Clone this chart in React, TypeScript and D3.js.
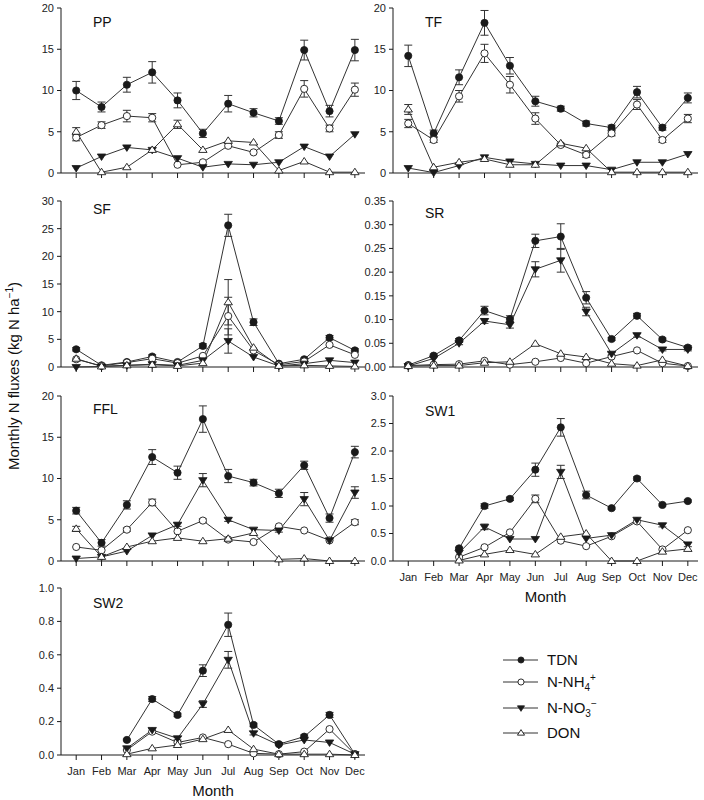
import React from "react";
import * as d3 from "d3";

const months = ["Jan", "Feb", "Mar", "Apr", "May", "Jun", "Jul", "Aug", "Sep", "Oct", "Nov", "Dec"];
const seriesNames = ["TDN", "NH4", "NO3", "DON"];

type V = number | null;

// PP
const ppTDN: V[] = [10.0, 8.0, 10.7, 12.2, 8.8, 4.8, 8.4, 7.3, 6.3, 14.9, 7.5, 14.9];
const ppTDNErr = [1.1, 0.6, 0.9, 1.3, 0.9, 0.5, 1.0, 0.5, 0.4, 1.2, 0.7, 1.3];
const ppNH4: V[] = [4.3, 5.8, 6.9, 6.7, 1.0, 1.3, 3.3, 2.5, 4.6, 10.2, 5.4, 10.1];
const ppNH4Err = [0.4, 0.4, 0.7, 0.5, 0, 0, 0, 0, 0.4, 1.0, 0.4, 0.8];
const ppNO3: V[] = [0.6, 2.0, 3.1, 2.8, 1.8, 0.7, 1.1, 1.0, 1.3, 3.2, 2.0, 4.7];
const ppNO3Err = [0, 0, 0, 0, 0, 0, 0, 0, 0, 0, 0, 0];
const ppDON: V[] = [5.0, 0.1, 0.7, 2.8, 5.9, 2.8, 3.9, 3.7, 0.3, 1.4, 0.1, 0.1];
const ppDONErr = [0.5, 0, 0, 0, 0.5, 0, 0, 0, 0, 0, 0, 0];

// TF
const tfTDN: V[] = [14.2, 4.8, 11.6, 18.2, 13.0, 8.7, 7.8, 6.0, 5.5, 9.8, 5.5, 9.1];
const tfTDNErr = [1.3, 0.4, 0.9, 1.5, 1.0, 0.6, 0.3, 0.3, 0.3, 0.7, 0.3, 0.6];
const tfNH4: V[] = [6.0, 4.0, 9.3, 14.5, 10.7, 6.6, 3.4, 2.2, 4.8, 8.3, 4.0, 6.6];
const tfNH4Err = [0.5, 0.3, 0.7, 1.1, 1.0, 0.7, 0.2, 0.3, 0.3, 0.6, 0.3, 0.5];
const tfNO3: V[] = [0.6, 0.05, 0.9, 1.9, 1.4, 1.1, 0.9, 0.9, 0.4, 1.3, 1.3, 2.3];
const tfNO3Err = [0, 0, 0, 0, 0, 0, 0, 0, 0, 0, 0, 0];
const tfDON: V[] = [7.7, 0.7, 1.3, 1.7, 1.0, 1.0, 3.6, 3.0, 0.1, 0.1, 0.1, 0.1];
const tfDONErr = [0.6, 0, 0, 0, 0, 0, 0, 0, 0, 0, 0, 0];

// SF
const sfTDN: V[] = [3.2, 0.3, 0.9, 1.9, 0.9, 3.8, 25.6, 8.1, 0.6, 1.4, 5.3, 3.0];
const sfTDNErr = [0.3, 0.1, 0.2, 0.3, 0.2, 0.4, 2.0, 0.6, 0.1, 0.2, 0.4, 0.3];
const sfNH4: V[] = [1.4, 0.2, 0.8, 1.5, 0.7, 2.0, 9.2, 3.0, 0.4, 1.0, 4.0, 2.2];
const sfNH4Err = [0, 0, 0, 0, 0, 0, 3.4, 0, 0, 0, 0, 0];
const sfNO3: V[] = [0.0, 0.1, 0.3, 0.5, 0.3, 1.2, 4.7, 1.8, 0.2, 0.6, 1.2, 0.8];
const sfNO3Err = [0, 0, 0, 0, 0, 0, 2.2, 0, 0, 0, 0, 0];
const sfDON: V[] = [1.5, 0.1, 0.3, 0.4, 0.2, 0.7, 11.7, 3.5, 0.2, 0.3, 0.2, 0.1];
const sfDONErr = [0, 0, 0, 0, 0, 0, 4.1, 0, 0, 0, 0, 0];

// SR
const srTDN: V[] = [0.004, 0.024, 0.056, 0.119, 0.101, 0.266, 0.275, 0.146, 0.059, 0.108, 0.058, 0.041];
const srTDNErr = [0.002, 0.003, 0.004, 0.009, 0.007, 0.014, 0.027, 0.013, 0.003, 0.005, 0.003, 0.004];
const srNH4: V[] = [0.003, 0.005, 0.006, 0.013, 0.005, 0.011, 0.019, 0.008, 0.022, 0.035, 0.008, 0.002];
const srNH4Err = [0, 0, 0, 0, 0, 0, 0, 0, 0, 0, 0, 0];
const srNO3: V[] = [0.002, 0.018, 0.05, 0.097, 0.089, 0.206, 0.225, 0.117, 0.028, 0.067, 0.037, 0.037];
const srNO3Err = [0, 0, 0.003, 0.005, 0.007, 0.016, 0.025, 0.009, 0.003, 0.004, 0.003, 0.003];
const srDON: V[] = [0.002, 0.003, 0.003, 0.009, 0.011, 0.049, 0.028, 0.021, 0.007, 0.003, 0.015, 0.002];
const srDONErr = [0, 0, 0, 0, 0, 0, 0, 0, 0, 0, 0, 0];

// FFL
const ffTDN: V[] = [6.1, 2.2, 6.8, 12.6, 10.7, 17.2, 10.3, 9.5, 8.2, 11.6, 5.2, 13.2];
const ffTDNErr = [0.4, 0.4, 0.5, 0.9, 0.8, 1.6, 0.8, 0.4, 0.5, 0.5, 0.5, 0.7];
const ffNH4: V[] = [1.7, 1.3, 3.8, 7.1, 3.6, 4.9, 2.6, 2.3, 4.2, 3.7, 2.5, 4.7];
const ffNH4Err = [0, 0, 0.2, 0.4, 0, 0.2, 0, 0, 0, 0, 0, 0.3];
const ffNO3: V[] = [0.3, 0.5, 1.2, 3.1, 4.4, 9.8, 5.0, 3.8, 3.7, 7.5, 2.5, 8.3];
const ffNO3Err = [0, 0, 0, 0, 0.2, 0.8, 0.2, 0, 0.2, 0.8, 0, 0.7];
const ffDON: V[] = [3.9, 0.5, 1.7, 2.4, 2.8, 2.4, 2.7, 3.4, 0.2, 0.3, 0.0, 0.0];
const ffDONErr = [0.3, 0, 0, 0, 0, 0, 0, 0, 0, 0, 0, 0];

// SW1
const sw1TDN: V[] = [null, null, 0.23, 1.0, 1.13, 1.66, 2.43, 1.2, 0.96, 1.5, 1.02, 1.09];
const sw1TDNErr = [0, 0, 0.02, 0.04, 0.03, 0.12, 0.16, 0.07, 0.02, 0.03, 0.02, 0.02];
const sw1NH4: V[] = [null, null, 0.07, 0.25, 0.52, 1.13, 0.37, 0.27, 0.45, 0.72, 0.21, 0.56];
const sw1NH4Err = [0, 0, 0, 0, 0, 0.07, 0, 0, 0, 0, 0, 0];
const sw1NO3: V[] = [null, null, 0.15, 0.62, 0.4, 0.4, 1.62, 0.41, 0.47, 0.75, 0.65, 0.3];
const sw1NO3Err = [0, 0, 0, 0.05, 0, 0, 0.12, 0, 0, 0, 0.03, 0.04];
const sw1DON: V[] = [null, null, 0.01, 0.12, 0.2, 0.12, 0.44, 0.5, 0.0, 0.0, 0.17, 0.22];
const sw1DONErr = [0, 0, 0, 0, 0, 0, 0, 0, 0, 0, 0, 0];

// SW2
const sw2TDN: V[] = [null, null, 0.09, 0.335, 0.24, 0.505, 0.78, 0.18, 0.065, 0.11, 0.24, 0.005];
const sw2TDNErr = [0, 0, 0.005, 0.015, 0.01, 0.035, 0.07, 0.01, 0.005, 0.01, 0.015, 0];
const sw2NH4: V[] = [null, null, 0.03, 0.14, 0.075, 0.105, 0.065, 0.01, 0.005, 0.02, 0.155, 0.005];
const sw2NH4Err = [0, 0, 0, 0, 0, 0, 0, 0, 0, 0, 0, 0];
const sw2NO3: V[] = [null, null, 0.04, 0.15, 0.1, 0.305, 0.57, 0.13, 0.06, 0.09, 0.075, 0.005];
const sw2NO3Err = [0, 0, 0, 0.01, 0.01, 0.02, 0.05, 0.01, 0, 0, 0, 0];
const sw2DON: V[] = [null, null, 0.005, 0.04, 0.06, 0.095, 0.15, 0.035, 0.005, 0.005, 0.005, 0.0];
const sw2DONErr = [0, 0, 0, 0, 0, 0, 0, 0, 0, 0, 0, 0];

const FONT = "'Liberation Sans', Arial, Helvetica, sans-serif";
const INK = "#1a1a1a";

type PanelDef = {
  name: string;
  col: 0 | 1;
  top: number;
  bottom: number;
  ymax: number;
  step: number;
  fmt: string;
  labelDy: number;
  showMonths: boolean;
  data: V[][];
  errs: number[][];
};

const panels: PanelDef[] = [
  { name: "PP", col: 0, top: 8, bottom: 173, ymax: 20, step: 5, fmt: "d", labelDy: 19, showMonths: false,
    data: [ppTDN, ppNH4, ppNO3, ppDON], errs: [ppTDNErr, ppNH4Err, ppNO3Err, ppDONErr] },
  { name: "TF", col: 1, top: 8, bottom: 173, ymax: 20, step: 5, fmt: "d", labelDy: 19, showMonths: false,
    data: [tfTDN, tfNH4, tfNO3, tfDON], errs: [tfTDNErr, tfNH4Err, tfNO3Err, tfDONErr] },
  { name: "SF", col: 0, top: 201, bottom: 367, ymax: 30, step: 5, fmt: "d", labelDy: 13, showMonths: false,
    data: [sfTDN, sfNH4, sfNO3, sfDON], errs: [sfTDNErr, sfNH4Err, sfNO3Err, sfDONErr] },
  { name: "SR", col: 1, top: 201, bottom: 367, ymax: 0.35, step: 0.05, fmt: ".2f", labelDy: 17, showMonths: false,
    data: [srTDN, srNH4, srNO3, srDON], errs: [srTDNErr, srNH4Err, srNO3Err, srDONErr] },
  { name: "FFL", col: 0, top: 396, bottom: 561, ymax: 20, step: 5, fmt: "d", labelDy: 18, showMonths: false,
    data: [ffTDN, ffNH4, ffNO3, ffDON], errs: [ffTDNErr, ffNH4Err, ffNO3Err, ffDONErr] },
  { name: "SW1", col: 1, top: 396, bottom: 561, ymax: 3, step: 0.5, fmt: ".1f", labelDy: 20, showMonths: true,
    data: [sw1TDN, sw1NH4, sw1NO3, sw1DON], errs: [sw1TDNErr, sw1NH4Err, sw1NO3Err, sw1DONErr] },
  { name: "SW2", col: 0, top: 588, bottom: 755, ymax: 1, step: 0.2, fmt: ".1f", labelDy: 20, showMonths: true,
    data: [sw2TDN, sw2NH4, sw2NO3, sw2DON], errs: [sw2TDNErr, sw2NH4Err, sw2NO3Err, sw2DONErr] },
];

const colRange: [number, number][] = [
  [61, 365],
  [393, 698],
];

function Marker({ kind, x, y, s = 1 }: { kind: string; x: number; y: number; s?: number }) {
  if (kind === "TDN")
    return <circle cx={x} cy={y} r={3.6 * s} fill={INK} stroke={INK} strokeWidth={0.8} />;
  if (kind === "NH4")
    return <circle cx={x} cy={y} r={3.6 * s} fill="#fff" stroke={INK} strokeWidth={0.9} />;
  if (kind === "NO3") {
    const w = 4.2 * s, h = 3.6 * s;
    return (
      <path d={`M${x - w},${y - h * 0.7}L${x + w},${y - h * 0.7}L${x},${y + h * 1.1}Z`} fill={INK} stroke={INK} strokeWidth={0.8} />
    );
  }
  const w = 4.2 * s, h = 3.6 * s;
  return (
    <path d={`M${x - w},${y + h * 0.7}L${x + w},${y + h * 0.7}L${x},${y - h * 1.1}Z`} fill="#fff" stroke={INK} strokeWidth={0.9} />
  );
}

function Panel({ p }: { p: PanelDef }) {
  const [x0, x1] = colRange[p.col];
  const x = d3.scaleLinear().domain([0.4, 12.4]).range([x0, x1]);
  const y = d3.scaleLinear().domain([0, p.ymax]).range([p.bottom, p.top]);
  const ticks = d3.range(0, p.ymax + p.step / 2, p.step);
  const fmt = d3.format(p.fmt);
  const line = d3
    .line<V>()
    .defined((d) => d != null)
    .x((_, i) => x(i + 1))
    .y((d) => y(d as number));

  return (
    <g>
      {/* axes */}
      <line x1={x0} x2={x1} y1={p.bottom} y2={p.bottom} stroke={INK} strokeWidth={1} />
      <line x1={x0} x2={x0} y1={p.bottom} y2={p.top} stroke={INK} strokeWidth={1} />
      {ticks.map((t) => (
        <g key={t}>
          <line x1={x0 - 4} x2={x0} y1={y(t)} y2={y(t)} stroke={INK} strokeWidth={1} />
          <text x={x0 - 7} y={y(t)} dy="0.35em" textAnchor="end" fontSize={11} fill="#222" fontFamily={FONT}>
            {fmt(t)}
          </text>
        </g>
      ))}
      {months.map((m, i) => (
        <g key={m}>
          <line x1={x(i + 1)} x2={x(i + 1)} y1={p.bottom} y2={p.bottom + 5} stroke={INK} strokeWidth={1} />
          {p.showMonths && (
            <text x={x(i + 1)} y={p.bottom + 20} textAnchor="middle" fontSize={11} fill="#222" fontFamily={FONT}>
              {m}
            </text>
          )}
        </g>
      ))}
      {p.showMonths && (
        <text x={(x0 + x1) / 2} y={p.bottom + 41} textAnchor="middle" fontSize={15} fill="#111" fontFamily={FONT}>
          Month
        </text>
      )}
      <text x={x0 + 32} y={p.top + p.labelDy} fontSize={14} fill="#111" fontFamily={FONT}>
        {p.name}
      </text>
      {/* series */}
      {p.data.map((vals, si) => (
        <path key={"l" + si} d={line(vals) || ""} fill="none" stroke="#333" strokeWidth={1} />
      ))}
      {p.data.map((vals, si) =>
        vals.map((v, i) => {
          const e = p.errs[si][i];
          if (v == null || !e) return null;
          const cx = x(i + 1);
          const yt = y(v + e);
          const yb = y(Math.max(0, v - e));
          return (
            <g key={`e${si}-${i}`} stroke="#333" strokeWidth={1}>
              <line x1={cx} x2={cx} y1={yt} y2={yb} />
              <line x1={cx - 4} x2={cx + 4} y1={yt} y2={yt} />
              <line x1={cx - 4} x2={cx + 4} y1={yb} y2={yb} />
            </g>
          );
        })
      )}
      {p.data.map((vals, si) =>
        vals.map((v, i) =>
          v == null ? null : <Marker key={`m${si}-${i}`} kind={seriesNames[si]} x={x(i + 1)} y={y(v)} />
        )
      )}
    </g>
  );
}

const legendY = [660, 682, 708, 733];

export default function App() {
  return (
    <svg width={704} height={800} style={{ position: "absolute", left: 0, top: 0, background: "#fff" }}>
      <rect width={704} height={800} fill="#fff" />
      {panels.map((p) => (
        <Panel key={p.name} p={p} />
      ))}
      <text
        transform="translate(19,376) rotate(-90)"
        textAnchor="middle"
        fontSize={15}
        fill="#111"
        fontFamily={FONT}
      >
        Monthly N fluxes (kg N ha
        <tspan fontSize={10} dy={-6}>−1</tspan>
        <tspan dy={6}>)</tspan>
      </text>
      {/* legend */}
      {seriesNames.map((s, i) => (
        <g key={s}>
          <line x1={503} x2={538} y1={legendY[i]} y2={legendY[i]} stroke="#333" strokeWidth={1} />
          <Marker kind={s} x={521} y={legendY[i]} s={0.85} />
        </g>
      ))}
      <text x={547} y={legendY[0]} dy="0.36em" fontSize={15} fill="#111" fontFamily={FONT}>TDN</text>
      <text x={547} y={legendY[1]} dy="0.36em" fontSize={15} fill="#111" fontFamily={FONT}>
        N-NH<tspan fontSize={10} dy={4}>4</tspan>
        <tspan fontSize={10} dy={-10}>+</tspan>
      </text>
      <text x={547} y={legendY[2]} dy="0.36em" fontSize={15} fill="#111" fontFamily={FONT}>
        N-NO<tspan fontSize={10} dy={4}>3</tspan>
        <tspan fontSize={10} dy={-10}>−</tspan>
      </text>
      <text x={547} y={legendY[3]} dy="0.36em" fontSize={15} fill="#111" fontFamily={FONT}>DON</text>
    </svg>
  );
}
